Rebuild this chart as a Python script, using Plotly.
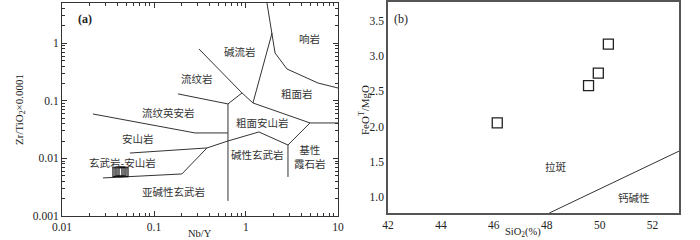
import math
import plotly.graph_objects as go

# ---------------- Panel (a): Nb/Y vs Zr/TiO2 (Winchester & Floyd) ----------------
a_sample_x = [0.0401, 0.0422, 0.0443, 0.0466]
a_sample_y = [0.0058, 0.0059, 0.0059, 0.0058]

# boundary polylines (Nb/Y, Zr/TiO2*0.0001)
b1_x = [1.69, 1.92, 2.07, 2.79, 6.06, 10.0]
b1_y = [5.0, 1.51, 0.678, 0.357, 0.204, 0.167]
b2_x = [1.92, 1.19, 4.96, 10.0]
b2_y = [1.51, 0.0918, 0.0413, 0.0413]
b3_x = [0.308, 0.905, 1.19]
b3_y = [0.795, 0.137, 0.0918]
b4_x = [0.905, 0.637, 0.637]
b4_y = [0.137, 0.0883, 0.00183]
b5_x = [0.182, 0.637]
b5_y = [0.132, 0.0883]
b6_x = [0.0217, 0.279, 0.637]
b6_y = [0.0591, 0.0277, 0.0277]
b7_x = [0.0279, 0.201, 0.377, 0.637, 1.38, 2.86, 4.96]
b7_y = [0.00458, 0.00537, 0.0152, 0.0201, 0.0288, 0.0171, 0.0413]
b8_x = [0.0548, 0.377]
b8_y = [0.0124, 0.0152]
b9_x = [2.86, 2.86]
b9_y = [0.0171, 0.00477]

a_labels = ["响岩", "碱流岩", "流纹岩", "粗面岩", "流纹英安岩", "粗面安山岩", "安山岩",
            "玄武岩-安山岩", "碱性玄武岩", "基性<br>霞石岩", "亚碱性玄武岩"]
a_label_x = [4.96, 0.86, 0.293, 3.58, 0.142, 1.53, 0.067, 0.046, 1.32, 4.96, 0.161]
a_label_y = [1.23, 0.705, 0.24, 0.132, 0.0615, 0.0413, 0.0218, 0.00834, 0.0115, 0.0106, 0.00262]

a_xtick_vals = [0.01, 0.1, 1, 10]
a_xtick_text = ["0.01", "0.1", "1", "10"]
a_ytick_vals = [0.001, 0.01, 0.1, 1, 5]
a_ytick_text = ["0.001", "0.01", "0.1", "1", "5"]

# ---------------- Panel (b): SiO2 vs FeOT/MgO ----------------
b_sample_x = [50.33, 49.95, 49.58, 46.13]
b_sample_y = [3.17, 2.76, 2.58, 2.05]
b_line_x = [48.1, 53.0]
b_line_y = [0.77, 1.65]
b_labels = ["拉斑", "钙碱性"]
b_label_x = [48.36, 51.3]
b_label_y = [1.43, 0.99]
b_xtick_vals = [42, 44, 46, 48, 50, 52]
b_ytick_vals = [1.0, 1.5, 2.0, 2.5, 3.0, 3.5]

SERIF = "Liberation Serif, Times New Roman, serif"
CJK = "Noto Sans CJK SC, Noto Sans, sans-serif"
LINE = dict(color="#333333", width=1)

W, H = 700, 240


def px_x(p):
    return p / W


def px_y(p):
    return 1 - p / H


fig = go.Figure()

for bx, by in [(b1_x, b1_y), (b2_x, b2_y), (b3_x, b3_y), (b4_x, b4_y), (b5_x, b5_y),
               (b6_x, b6_y), (b7_x, b7_y), (b8_x, b8_y), (b9_x, b9_y)]:
    fig.add_trace(go.Scatter(x=bx, y=by, mode="lines", line=LINE, xaxis="x", yaxis="y",
                             showlegend=False, hoverinfo="skip"))

fig.add_trace(go.Scatter(x=a_sample_x, y=a_sample_y, mode="markers", xaxis="x", yaxis="y",
                         marker=dict(symbol="square-open", size=9, color="#111",
                                     line=dict(width=1.2)), showlegend=False))

fig.add_trace(go.Scatter(x=b_line_x, y=b_line_y, mode="lines", line=LINE, xaxis="x2", yaxis="y2",
                         showlegend=False, hoverinfo="skip"))
fig.add_trace(go.Scatter(x=b_sample_x, y=b_sample_y, mode="markers", xaxis="x2", yaxis="y2",
                         marker=dict(symbol="square-open", size=10, color="#222",
                                     line=dict(width=1.3)), showlegend=False))

ann = []
for t, x, y in zip(a_labels, a_label_x, a_label_y):
    ann.append(dict(text=t, x=math.log10(x), y=math.log10(y), xref="x", yref="y",
                    showarrow=False, font=dict(family=CJK, size=10.5, color="#333")))
for t, x, y in zip(b_labels, b_label_x, b_label_y):
    ann.append(dict(text=t, x=x, y=y, xref="x2", yref="y2", showarrow=False,
                    font=dict(family=CJK, size=10.5, color="#333")))

ann.append(dict(text="<b>(a)</b>", x=math.log10(0.0178), y=math.log10(2.64), xref="x", yref="y",
                showarrow=False, font=dict(family=SERIF, size=12, color="#222")))
ann.append(dict(text="(b)", x=42.5, y=3.53, xref="x2", yref="y2",
                showarrow=False, font=dict(family=SERIF, size=12, color="#222")))
ann.append(dict(text="Nb/Y", x=px_x(200), y=px_y(233), xref="paper", yref="paper",
                xanchor="center", yanchor="middle",
                showarrow=False, font=dict(family=SERIF, size=10.5, color="#222")))
ann.append(dict(text="Zr/TiO<sub>2</sub>×0.0001", x=px_x(20), y=px_y(110), xref="paper",
                yref="paper", textangle=-90, showarrow=False, xanchor="center", yanchor="middle",
                font=dict(family=SERIF, size=11, color="#222")))
ann.append(dict(text="SiO<sub>2</sub>(%)", x=px_x(523), y=px_y(232), xref="paper", yref="paper",
                xanchor="center", yanchor="middle",
                showarrow=False, font=dict(family=SERIF, size=10.5, color="#222")))
ann.append(dict(text="FeO<sup>T</sup>/MgO", x=px_x(364), y=px_y(110), xref="paper",
                yref="paper", textangle=-90, showarrow=False, xanchor="center", yanchor="middle",
                font=dict(family=SERIF, size=11, color="#222")))

x_minor = [m * 10 ** e for e in (-2, -1, 0) for m in range(2, 10)]
y_minor = [m * 10 ** e for e in (-3, -2, -1) for m in range(2, 10)] + [2, 3, 4]

tickfont = dict(family=SERIF, size=11.5, color="#222")
fig.update_layout(
    width=W, height=H, margin=dict(l=0, r=0, t=0, b=0, autoexpand=False),
    paper_bgcolor="white", plot_bgcolor="white",
    annotations=ann,
    xaxis=dict(type="log", domain=[px_x(62), px_x(338)], range=[-2, 1.0001], automargin=False,
               tickmode="array", tickvals=a_xtick_vals, ticktext=a_xtick_text,
               ticks="inside", ticklen=5, tickcolor="#333", showgrid=False, zeroline=False,
               showline=True, linecolor="#333", linewidth=1, mirror="ticks", tickfont=tickfont,
               minor=dict(tickmode="array", tickvals=x_minor, ticks="inside", ticklen=3,
                          tickcolor="#333", showgrid=False),
               anchor="y"),
    yaxis=dict(type="log", domain=[px_y(216), px_y(3)], range=[-3.0001, 0.6991],
               automargin=False,
               tickmode="array", tickvals=a_ytick_vals, ticktext=a_ytick_text,
               ticks="inside", ticklen=5, tickcolor="#333", showgrid=False, zeroline=False,
               showline=True, linecolor="#333", linewidth=1, mirror="ticks", tickfont=tickfont,
               minor=dict(tickmode="array", tickvals=y_minor, ticks="inside", ticklen=3,
                          tickcolor="#333", showgrid=False),
               anchor="x"),
    xaxis2=dict(domain=[px_x(388), px_x(679)], range=[42, 53], tickmode="array",
                automargin=False,
                tickvals=b_xtick_vals, ticks="", showgrid=False, zeroline=False,
                showline=True, linecolor="#555", linewidth=1.5, mirror=True,
                tickfont=tickfont, anchor="y2"),
    yaxis2=dict(domain=[px_y(213), px_y(2)], range=[0.77, 3.77], tickmode="array",
                automargin=False,
                tickvals=b_ytick_vals, tickformat=".1f", ticks="", showgrid=False,
                zeroline=False, showline=True, linecolor="#555", linewidth=1.5, mirror=True,
                tickfont=tickfont, anchor="x2"),
)

# the page body has an 8px default margin; remove it so the figure fills the window
fig.write_html("out.html", config={"displayModeBar": False},
               post_script="document.body.style.margin='0';document.body.style.overflow='hidden';")
